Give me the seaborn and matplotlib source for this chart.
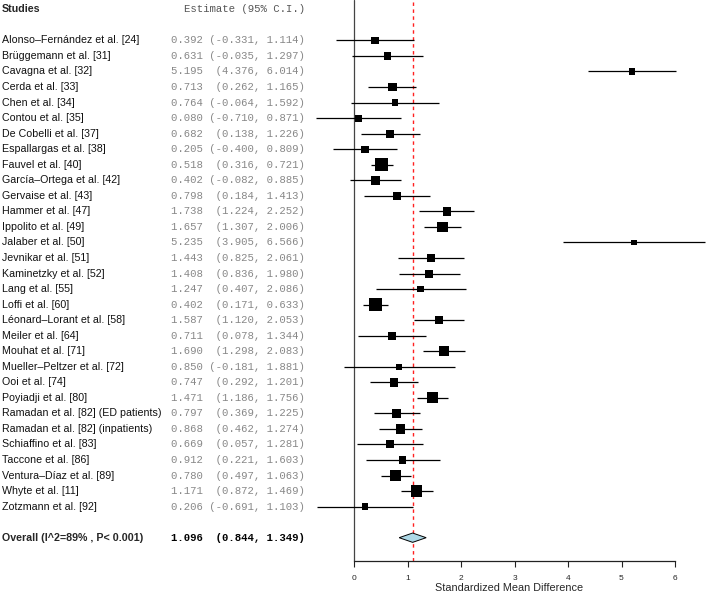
import matplotlib
matplotlib.use("Agg")
import matplotlib.pyplot as plt
from matplotlib.transforms import blended_transform_factory
import seaborn as sns
import pandas as pd

# Studies, estimates and 95% CI
studies = ["Alonso\u2013Fernández et al. [24]", "Brüggemann et al. [31]", "Cavagna et al. [32]",
           "Cerda et al. [33]", "Chen et al. [34]", "Contou et al. [35]", "De Cobelli et al. [37]",
           "Espallargas et al. [38]", "Fauvel et al. [40]", "García\u2013Ortega et al. [42]",
           "Gervaise et al. [43]", "Hammer et al. [47]", "Ippolito et al. [49]", "Jalaber et al. [50]",
           "Jevnikar et al. [51]", "Kaminetzky et al. [52]", "Lang et al. [55]", "Loffi et al. [60]",
           "Léonard\u2013Lorant et al. [58]", "Meiler et al. [64]", "Mouhat et al. [71]",
           "Mueller\u2013Peltzer et al. [72]", "Ooi et al. [74]", "Poyiadji et al. [80]",
           "Ramadan et al. [82] (ED patients)", "Ramadan et al. [82] (inpatients)",
           "Schiaffino et al. [83]", "Taccone et al. [86]", "Ventura\u2013Díaz et al. [89]",
           "Whyte et al. [11]", "Zotzmann et al. [92]"]
estimate = [0.392, 0.631, 5.195, 0.713, 0.764, 0.080, 0.682, 0.205, 0.518, 0.402, 0.798, 1.738,
            1.657, 5.235, 1.443, 1.408, 1.247, 0.402, 1.587, 0.711, 1.690, 0.850, 0.747, 1.471,
            0.797, 0.868, 0.669, 0.912, 0.780, 1.171, 0.206]
lower = [-0.331, -0.035, 4.376, 0.262, -0.064, -0.710, 0.138, -0.400, 0.316, -0.082, 0.184, 1.224,
         1.307, 3.905, 0.825, 0.836, 0.407, 0.171, 1.120, 0.078, 1.298, -0.181, 0.292, 1.186,
         0.369, 0.462, 0.057, 0.221, 0.497, 0.872, -0.691]
upper = [1.114, 1.297, 6.014, 1.165, 1.592, 0.871, 1.226, 0.809, 0.721, 0.885, 1.413, 2.252,
         2.006, 6.566, 2.061, 1.980, 2.086, 0.633, 2.053, 1.344, 2.083, 1.881, 1.201, 1.756,
         1.225, 1.274, 1.281, 1.603, 1.063, 1.469, 1.103]
# approximate study weights (%), judged from box sizes
weights = [2.2, 2.2, 1.9, 3.2, 1.9, 2.1, 2.7, 2.2, 7.4, 3.2, 2.7, 3.2, 4.8, 1.2, 2.7, 2.7, 1.9,
           6.8, 3.2, 2.7, 4.2, 1.5, 3.2, 5.4, 3.6, 3.6, 2.7, 2.2, 5.4, 5.4, 1.9]

overall_label = "Overall (I^2=89% , P< 0.001)"
overall = [1.096, 0.844, 1.349]
xticks = [0, 1, 2, 3, 4, 5, 6]

df = pd.DataFrame({"study": studies, "est": estimate, "lo": lower, "hi": upper, "w": weights})
df["row"] = range(len(df))
overall_row = len(df) + 1


def fmt_ci(e, lo, hi):
    lo_s = f"({lo:.3f},"
    return f"{e:.3f} {lo_s:>8} {hi:.3f})"


sns.set_style("white")
plt.rcParams["font.family"] = ["Liberation Sans", "DejaVu Sans"]

fig = plt.figure(figsize=(7.08, 5.92), dpi=100)
W, H = 708, 592
px_per_unit = 53.5
x0_px = 354
left_px, right_px = 310, 708
ax = fig.add_axes([left_px / W, 1 - 561 / H, (right_px - left_px) / W, 561 / H])
ax.set_xlim((left_px - x0_px) / px_per_unit, (right_px - x0_px) / px_per_unit)
ax.set_ylim(33.5, -2.6)

# confidence intervals
ax.hlines(df["row"], df["lo"], df["hi"], color="black", lw=0.9, zorder=2)

# weighted boxes
k = 12.3
sns.scatterplot(data=df, x="est", y="row", size="w", sizes=(k * min(weights), k * max(weights)),
                size_norm=(min(weights), max(weights)), marker="s", color="black",
                linewidth=0, legend=False, ax=ax, zorder=3)

# overall diamond
e, lo, hi = overall
h = 0.3
ax.fill([lo, e, hi, e], [overall_row, overall_row - h, overall_row, overall_row + h],
        facecolor="#add8e6", edgecolor="black", lw=0.7, zorder=3)

# reference lines
ax.axvline(0, color="#444444", lw=0.9, zorder=1)
ax.axvline(e, color="#ff2020", lw=1.0, ls=(0, (2.5, 2.5)), zorder=1)

for s in ["top", "right", "left"]:
    ax.spines[s].set_visible(False)
ax.spines["bottom"].set_bounds(0, 6)
ax.spines["bottom"].set_linewidth(0.9)
ax.spines["bottom"].set_color("#222222")
ax.set_yticks([])
ax.set_xticks(xticks)
ax.set_xticklabels([str(t) for t in xticks], fontsize=6)
ax.tick_params(axis="x", length=4, width=0.8, pad=6, color="#222222", bottom=True)
ax.set_xlabel("Standardized Mean Difference", fontsize=7.8, labelpad=1)
ax.set_ylabel("")

# text columns
tr = blended_transform_factory(fig.transFigure, ax.transData)
name_x = 2 / W
est_x = 305 / W
fs = 7.7
ax.text(name_x, -2, "Studies", transform=tr, fontsize=fs, fontweight="bold",
        va="center", ha="left", clip_on=False)
ax.text(est_x, -2, "Estimate (95% C.I.)", transform=tr, fontsize=7.7,
        family="Liberation Mono", color="#555555", va="center", ha="right", clip_on=False)
for i, r in df.iterrows():
    ax.text(name_x, r["row"], r["study"], transform=tr, fontsize=fs, color="#111111",
            va="center", ha="left", clip_on=False)
    ax.text(est_x, r["row"], fmt_ci(r["est"], r["lo"], r["hi"]), transform=tr, fontsize=7.7,
            family="Liberation Mono", color="#888888", va="center", ha="right", clip_on=False)
ax.text(name_x, overall_row, overall_label, transform=tr, fontsize=fs, fontweight="bold",
        va="center", ha="left", clip_on=False)
ax.text(est_x, overall_row, fmt_ci(*overall), transform=tr, fontsize=7.7, fontweight="bold",
        family="Liberation Mono", color="black", va="center", ha="right", clip_on=False)

fig.savefig("out.png", dpi=100)
